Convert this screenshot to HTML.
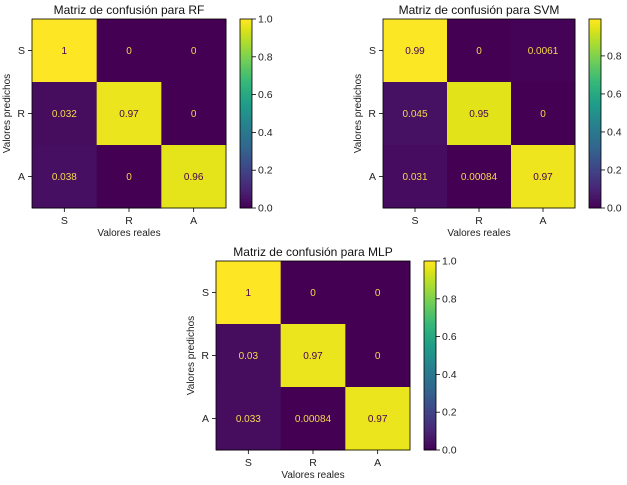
<!DOCTYPE html>
<html><head><meta charset="utf-8"><style>
html,body{margin:0;padding:0;background:#fff;}
svg{display:block;font-family:"Liberation Sans","DejaVu Sans",sans-serif;}
</style></head><body>
<svg id="c" width="627" height="485" viewBox="0 0 627 485"></svg>
<script>
const labels = ["S","R","A"];
const rfValues = [[1,0,0],[0.032,0.97,0],[0.038,0,0.96]];
const rfText = [["1","0","0"],["0.032","0.97","0"],["0.038","0","0.96"]];
const svmValues = [[0.99,0,0.0061],[0.045,0.95,0],[0.031,0.00084,0.97]];
const svmText = [["0.99","0","0.0061"],["0.045","0.95","0"],["0.031","0.00084","0.97"]];
const mlpValues = [[1,0,0],[0.03,0.97,0],[0.033,0.00084,0.97]];
const mlpText = [["1","0","0"],["0.03","0.97","0"],["0.033","0.00084","0.97"]];
const rfTicks = [0,0.2,0.4,0.6,0.8,1.0];
const svmTicks = [0,0.2,0.4,0.6,0.8];
const mlpTicks = [0,0.2,0.4,0.6,0.8,1.0];

const NS="http://www.w3.org/2000/svg";
const svg=document.getElementById('c');
const VIR=[[0,[68,1,84]],[0.05,[71,19,101]],[0.111,[72,40,120]],[0.222,[62,73,137]],[0.333,[49,104,142]],[0.444,[38,130,142]],[0.556,[31,158,137]],[0.667,[53,183,121]],[0.778,[110,206,88]],[0.889,[181,222,43]],[0.95,[223,227,24]],[1,[253,231,37]]];
function viridis(t){t=Math.max(0,Math.min(1,t));let i=0;while(i<VIR.length-2&&t>VIR[i+1][0])i++;const [p0,a]=VIR[i],[p1,b]=VIR[i+1];const f=(t-p0)/(p1-p0);return `rgb(${a.map((v,k)=>Math.round(v+(b[k]-v)*f)).join(',')})`;}
function el(tag,attrs,parent){const e=document.createElementNS(NS,tag);for(const k in attrs)e.setAttribute(k,attrs[k]);(parent||svg).appendChild(e);return e;}
function txt(s,attrs,parent){const e=el('text',attrs,parent);e.textContent=s;return e;}

function chart(name,title,vals,texts,ticks,x0,y0,x1,y1,cbx,vmin,vmax){
  const g=el('g',{});
  
  
  const cw=(x1-x0)/3,ch=(y1-y0)/3;
  const xs=i=>x0+i*cw, ys=j=>y0+j*ch;
  const norm=v=>(v-vmin)/(vmax-vmin);
  for(let r=0;r<3;r++)for(let c=0;c<3;c++){
    const v=vals[r][c];
    const rc=el('rect',{x:xs(c),y:ys(r),width:cw+0.5,height:ch+0.5,fill:viridis(norm(v))},g);
    
    
    const t=txt(texts[r][c],{x:xs(c)+cw/2,y:ys(r)+ch/2+3.5,'text-anchor':'middle','font-size':'10',fill:norm(v)>0.5?'#440154':'#f5d94a'},g);
    
    
  }
  el('rect',{x:x0,y:y0,width:x1-x0,height:y1-y0,fill:'none',stroke:'#000','stroke-width':0.8},g);
  for(let i=0;i<3;i++){
    el('line',{x1:xs(i)+cw/2,x2:xs(i)+cw/2,y1:y1,y2:y1+4,stroke:'#000','stroke-width':0.8},g);
    const tx=txt(labels[i],{x:xs(i)+cw/2,y:y1+16,'text-anchor':'middle','font-size':'10.5',fill:'#222'},g);
    
    
    el('line',{x1:x0-4,x2:x0,y1:ys(i)+ch/2,y2:ys(i)+ch/2,stroke:'#000','stroke-width':0.8},g);
    const ty=txt(labels[i],{x:x0-7,y:ys(i)+ch/2+3.5,'text-anchor':'end','font-size':'10.5',fill:'#222'},g);
    
    
  }
  const tt=txt(title,{x:(x0+x1)/2,y:y0-5,'text-anchor':'middle','font-size':'12',fill:'#111'},g);
  
  
  const xl=txt('Valores reales',{x:(x0+x1)/2,y:y1+28,'text-anchor':'middle','font-size':'10',fill:'#222'},g);
  
  
  const yl=txt('Valores predichos',{x:0,y:0,'text-anchor':'middle','font-size':'10',fill:'#222',transform:`translate(${x0-22},${(y0+y1)/2}) rotate(-90)`},g);
  
  
  const cb=el('g',{},g);
  
  
  const n=80,h=(y1-y0)/n;
  for(let i=0;i<n;i++){el('rect',{x:cbx,y:y1-(i+1)*h,width:12,height:h+0.4,fill:viridis((i+0.5)/n)},cb);}
  el('rect',{x:cbx,y:y0,width:12,height:y1-y0,fill:'none',stroke:'#000','stroke-width':0.8},cb);
  const cy=v=>y1-norm(v)*(y1-y0);
  ticks.forEach(t=>{
    el('line',{x1:cbx+12,x2:cbx+16,y1:cy(t),y2:cy(t),stroke:'#000','stroke-width':0.8},cb);
    const l=txt(t.toFixed(1),{x:cbx+18,y:cy(t)+3.5,'font-size':'10.5',fill:'#222'},cb);
    
    
  });
}
chart('rf-chart','Matriz de confusión para RF',rfValues,rfText,rfTicks,32,19,226,208,240,0,1);
chart('svm-chart','Matriz de confusión para SVM',svmValues,svmText,svmTicks,383,19,575,208,589,0,0.994);
chart('mlp-chart','Matriz de confusión para MLP',mlpValues,mlpText,mlpTicks,216,261,410,450,424,0,1);
</script>
</body></html>
